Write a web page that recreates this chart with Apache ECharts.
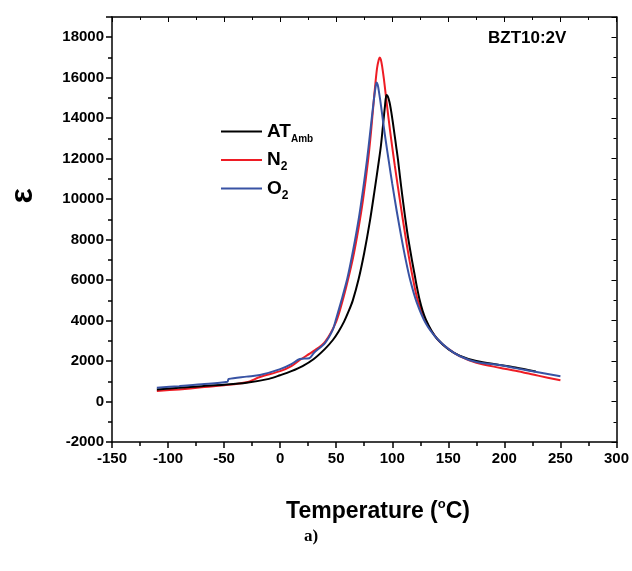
<!DOCTYPE html>
<html>
<head>
<meta charset="utf-8">
<script src="https://cdn.jsdelivr.net/npm/echarts@6/dist/echarts.min.js"></script>
<style>html,body{margin:0;padding:0;background:#fff}#c{width:632px;height:571px}</style>
</head>
<body>
<div id="c"></div>
<script>
// Data (Temperature °C, permittivity ε)
var atAmbT = [-110,-90,-70,-50,-30,-10,0,10,20,30,40,47,52,57,61,64.8,70,75,80,84,88.2,90,92,93.5,94.8,96,97.5,99,100.5,102,103.5,105.1,107,109,111,113,115,117.5,120,122,124.5,127,130,135,140,150,160,175,195.7,210,228];
var atAmbV = [600,680,760,830,930,1120,1300,1500,1750,2100,2600,3040,3450,3950,4450,5000,6050,7350,8900,10350,11950,12700,13800,14600,15150,15080,14800,14350,13800,13200,12600,11950,11050,10150,9300,8500,7800,7000,6250,5650,5000,4500,4050,3500,3100,2580,2270,2000,1810,1680,1480];

var n2T = [-110,-90,-70,-50,-30,-18,0,10,17.5,30,40,50,55.8,60,65,70,74,78.4,81,83,85,86.5,88,88.8,89.8,91,92.5,94,96,98,100,102.2,105,108,111,114,118,122.7,130,140,150,160,175,195.7,210,230,250];
var n2V = [520,600,700,800,950,1210,1500,1750,2050,2500,2950,3950,5000,5900,7100,8600,10000,11900,13300,14550,15750,16500,16900,17000,16900,16550,15950,15250,14300,13400,12560,11680,10620,9510,8430,7410,6200,5000,3950,3100,2600,2250,1920,1670,1520,1280,1050];

var o2T = [-110,-90,-70,-47,-46,-30,-18,0,10,17.5,26,30,40,47,50,54.7,60,65,70,74,77.5,80,82,84,85,86,87,88,90,92,94,97.1,100,104,108,112,116,121.5,130,140,150,160,175,195.7,210,230,250];
var o2V = [680,760,850,980,1110,1230,1310,1600,1850,2100,2140,2400,2890,3550,4100,5000,6100,7450,9000,10500,11950,13150,14150,15100,15500,15760,15650,15350,14600,13750,12950,11800,10750,9400,8150,7000,6000,4950,3850,3100,2600,2250,1950,1800,1650,1450,1250];

var xTickMin = -150, xTickMax = 300, xTickStep = 50;
var yTickMin = -2000, yTickMax = 19000, yTickStep = 2000;

function pairs(t, v){ return t.map(function(x,i){ return [x, v[i]]; }); }

var FONT = '"Liberation Sans", Arial, sans-serif';
var chart = echarts.init(document.getElementById('c'), null, {renderer:'canvas'});

var axisCommon = {
  type:'value',
  axisLine:{show:true, onZero:false, lineStyle:{color:'#000', width:1.5}},
  splitLine:{show:false},
  minorSplitLine:{show:false}
};
function plain(v){ return String(v); }

var option = {
  backgroundColor:'#fff',
  animation:false,
  grid:{left:112, right:15, top:17, bottom:129, containLabel:false},
  legend:{
    orient:'vertical', left:221, top:122, padding:0, itemWidth:41, itemHeight:2, itemGap:6,
    icon:'rect',
    selectedMode:false,
    data:['AT_Amb','N2','O2'],
    formatter:function(n){
      if(n==='AT_Amb') return '{m|AT}{s|Amb}';
      if(n==='N2') return '{m|N}{s2|2}';
      return '{m|O}{s2|2}';
    },
    textStyle:{
      color:'#000', fontFamily:FONT, fontWeight:'bold', fontSize:18,
      rich:{
        m:{fontSize:19, fontWeight:'bold', fontFamily:FONT, color:'#000', lineHeight:26},
        s:{fontSize:10, fontWeight:'bold', fontFamily:FONT, color:'#000', lineHeight:10, verticalAlign:'bottom'},
        s2:{fontSize:12, fontWeight:'bold', fontFamily:FONT, color:'#000', lineHeight:12, verticalAlign:'bottom'}
      }
    }
  },
  xAxis:[
    Object.assign({}, axisCommon, {
      position:'bottom', min:xTickMin, max:xTickMax, interval:xTickStep,
      axisTick:{show:true, inside:false, length:6, lineStyle:{color:'#000', width:1.5}},
      minorTick:{show:true, splitNumber:2, length:4, lineStyle:{color:'#000', width:1.5}},
      axisLabel:{color:'#000', fontFamily:FONT, fontWeight:'bold', fontSize:15, margin:9, formatter:plain}
    }),
    Object.assign({}, axisCommon, {
      position:'top', min:xTickMin, max:xTickMax, interval:xTickStep,
      axisTick:{show:true, inside:true, length:5, lineStyle:{color:'#000', width:1}},
      minorTick:{show:true, splitNumber:2, length:3, lineStyle:{color:'#000', width:1}},
      axisLabel:{show:false}
    })
  ],
  yAxis:[
    Object.assign({}, axisCommon, {
      position:'left', min:yTickMin, max:yTickMax, interval:yTickStep,
      axisTick:{show:true, inside:false, length:6, lineStyle:{color:'#000', width:1.5}},
      minorTick:{show:true, splitNumber:2, length:4, lineStyle:{color:'#000', width:1.5}},
      axisLabel:{color:'#000', fontFamily:FONT, fontWeight:'bold', fontSize:15, margin:8, showMaxLabel:false, formatter:plain}
    }),
    Object.assign({}, axisCommon, {
      position:'right', min:yTickMin, max:yTickMax, interval:yTickStep,
      axisTick:{show:true, inside:true, length:5, lineStyle:{color:'#000', width:1}},
      minorTick:{show:true, splitNumber:2, length:3, lineStyle:{color:'#000', width:1}},
      axisLabel:{show:false}
    })
  ],
  series:[
    {name:'AT_Amb', type:'line', data:pairs(atAmbT, atAmbV), showSymbol:false, symbol:'none', smooth:0.3,
     lineStyle:{color:'#000000', width:2}, itemStyle:{color:'#000000'}, z:3},
    {name:'N2', type:'line', data:pairs(n2T, n2V), showSymbol:false, symbol:'none', smooth:0.3,
     lineStyle:{color:'#ee1c24', width:2}, itemStyle:{color:'#ee1c24'}, z:2},
    {name:'O2', type:'line', data:pairs(o2T, o2V), showSymbol:false, symbol:'none', smooth:0.3,
     lineStyle:{color:'#3853a4', width:2}, itemStyle:{color:'#3853a4'}, z:4}
  ],
  graphic:[
    {type:'text', left:488, top:30, style:{text:'BZT10:2V', fill:'#000', font:'bold 17px '+FONT}},
    {type:'text', x:23, y:196, rotation:Math.PI/2,
     style:{text:'ε', fill:'#000', font:'bold 32px '+FONT, textAlign:'center', textVerticalAlign:'middle'}},
    {type:'text', x:378, y:512,
     style:{text:'{t|Temperature (}{p|o}{t|C)}', textAlign:'center', textVerticalAlign:'middle',
       rich:{
         t:{fontSize:23, fontWeight:'bold', fontFamily:FONT, fill:'#000', lineHeight:28},
         p:{fontSize:13, fontWeight:'bold', fontFamily:FONT, fill:'#000', lineHeight:13, verticalAlign:'top'}
       }}},
    {type:'text', x:311, y:537,
     style:{text:'a)', fill:'#000', font:'bold 17px "Liberation Serif", "Times New Roman", serif', textAlign:'center', textVerticalAlign:'middle'}}
  ]
};
chart.setOption(option);
</script>
</body>
</html>
